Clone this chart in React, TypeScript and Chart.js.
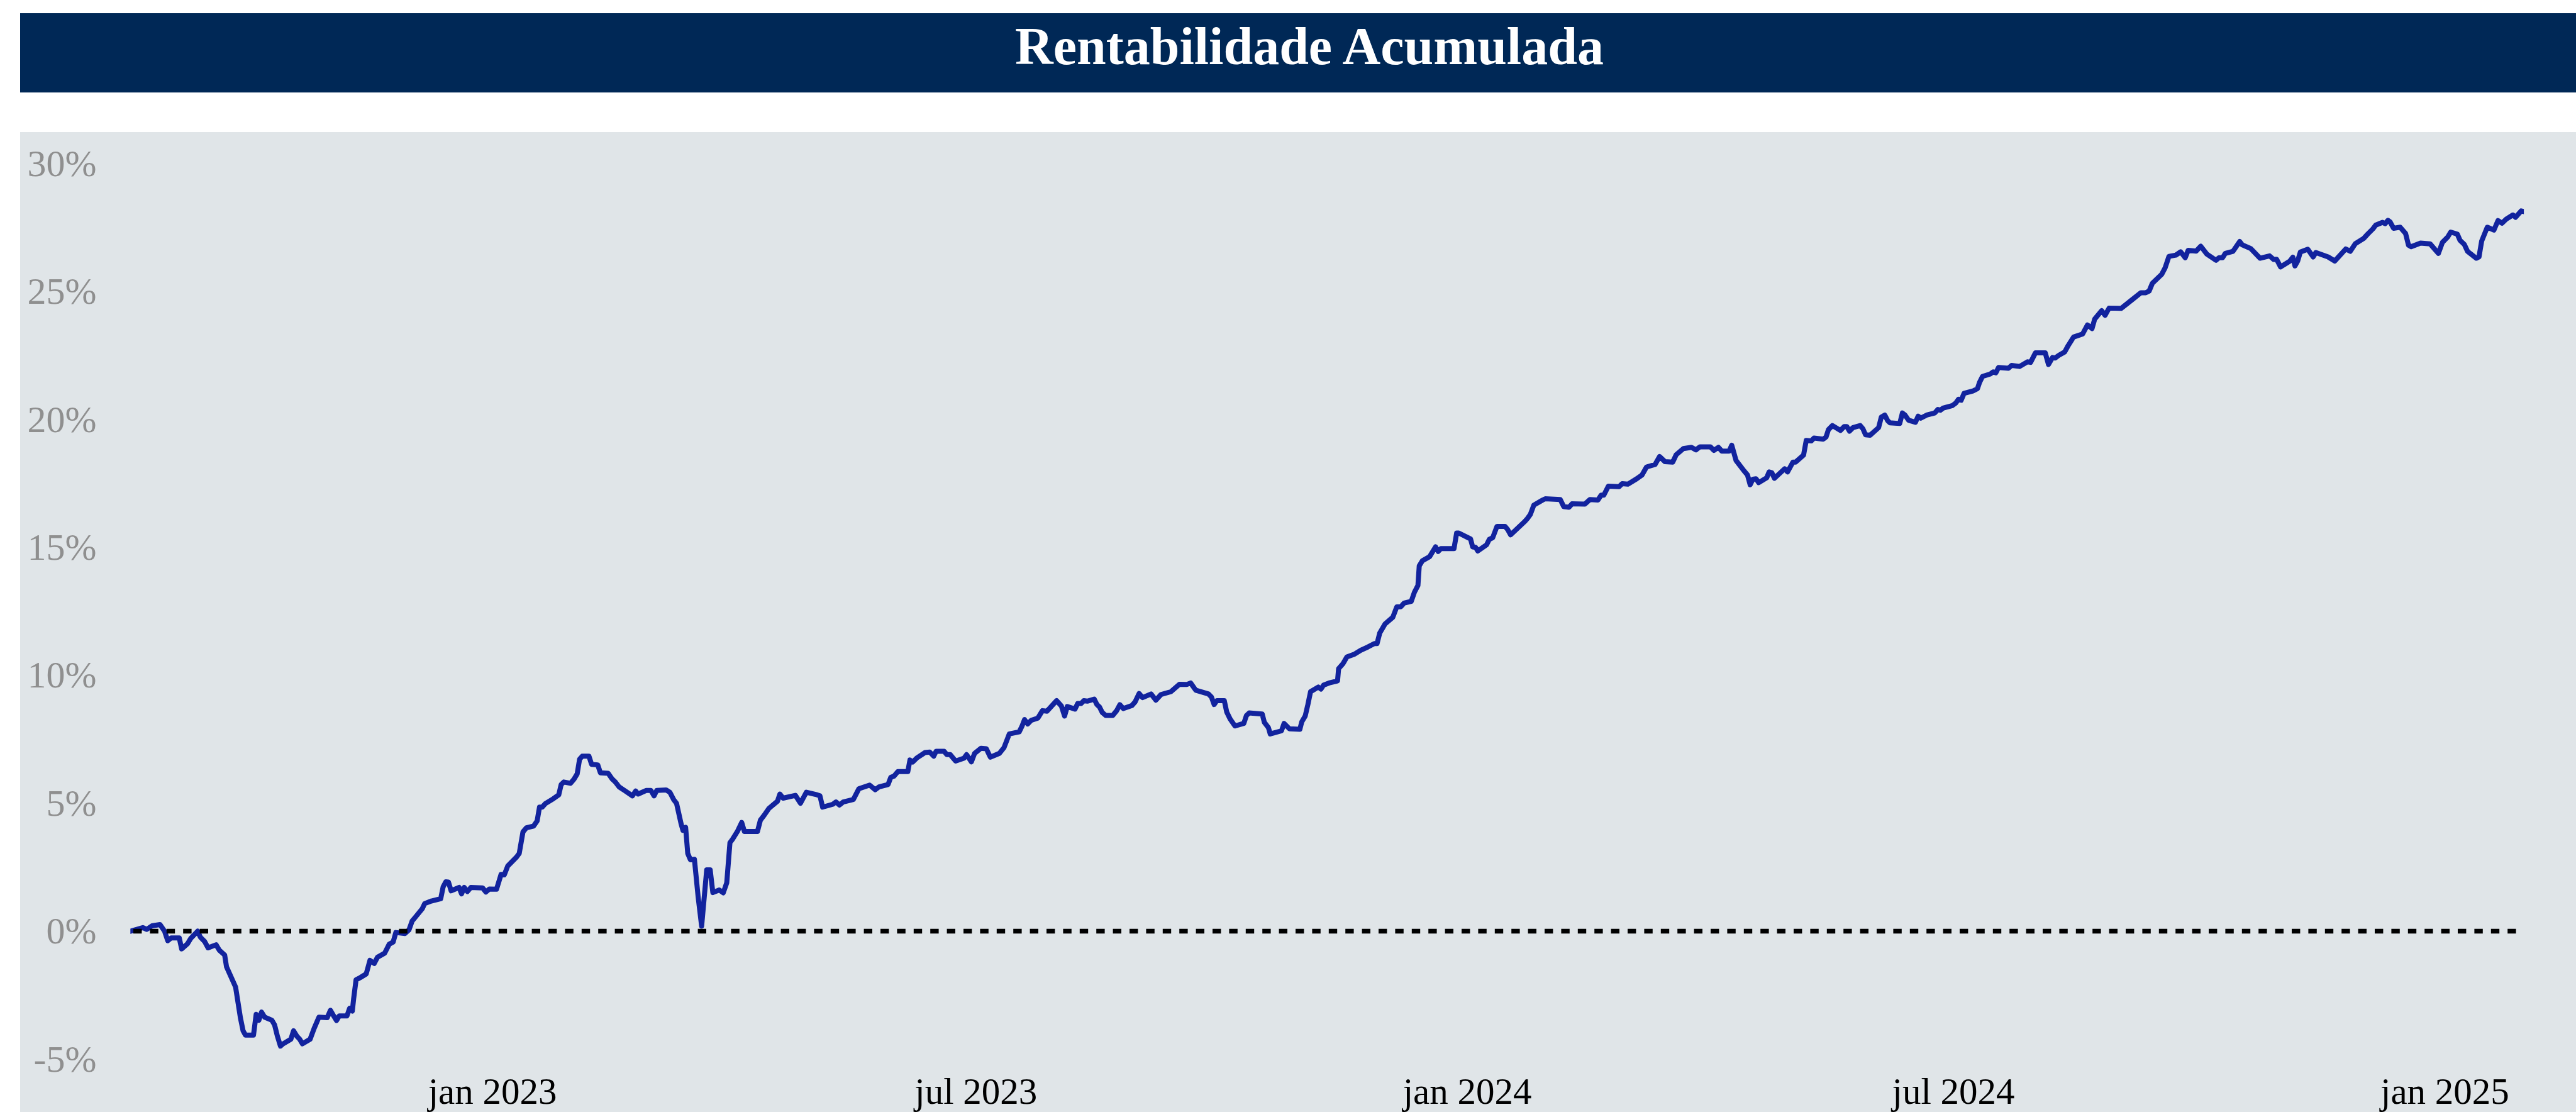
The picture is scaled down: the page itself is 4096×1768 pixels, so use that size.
import React, { useEffect, useRef } from 'react';
import { Chart, registerables } from 'chart.js';

Chart.register(...registerables);

const TITLE = 'Rentabilidade Acumulada';

// x: days since 2023-01-01, y: cumulative return in %
const dayOffsets = [
  -135.6, -130.9, -129.5, -127.5, -124.5, -122.8, -121.6, -120.3, -117.3, -116.4,
  -114.2, -113.0, -110.4, -109.4, -107.8, -106.5, -103.5, -102.3, -100.3, -99.6,
  -96.2, -94.4, -93.4, -92.5, -89.5, -88.5, -87.5, -86.5, -85.3, -82.6,
  -81.6, -80.6, -79.4, -78.4, -75.5, -74.5, -73.2, -72.2, -71.2, -68.3,
  -66.8, -65.0, -61.9, -60.7, -59.7, -58.4, -57.4, -54.5, -53.5, -52.5,
  -52.0, -51.1, -49.5, -47.3, -45.9, -44.3, -43.1, -40.4, -38.7, -37.2,
  -36.2, -32.8, -31.3, -30.1, -28.8, -26.3, -25.4, -22.9, -19.4, -18.5,
  -17.5, -16.5, -15.5, -12.5, -11.6, -10.6, -9.4, -8.1, -3.7, -2.5,
  -1.2, 1.5, 3.2, 4.4, 5.7,
  9.0, 10.0, 11.4, 12.7, 15.4, 16.7, 17.6, 18.6, 19.8, 22.8,
  24.8, 25.7, 26.7, 29.2, 30.5, 31.7, 32.6, 33.6, 36.1, 37.1,
  39.4, 40.4, 43.3, 44.7, 46.0, 47.4, 49.4, 52.4, 53.6, 54.5,
  57.5, 59.3, 60.5, 61.5, 65.0, 66.4, 67.9, 68.9, 70.6, 71.3,
  72.3, 73.1, 74.1, 75.6, 77.0, 78.3, 80.2, 81.5, 82.5, 84.9,
  86.4, 87.7, 88.9, 89.9, 91.8, 93.3, 94.3, 99.2, 100.3, 101.7,
  103.5, 106.7, 107.6, 108.8, 113.4, 115.3, 117.5, 121.5, 122.6, 123.6,
  127.4, 128.6, 129.9, 131.3, 135.1, 137.2, 141.2, 143.3, 144.7, 148.1,
  149.1, 150.3, 151.8, 155.5, 156.3, 157.3, 159.0, 161.9,
  163.7, 165.2, 166.1, 169.1, 170.1, 171.4, 173.4, 176.5, 177.5, 179.3,
  180.5, 182.9, 184.9, 186.4, 189.8, 191.5, 193.5, 197.2, 198.2, 199.2,
  200.4, 201.7, 204.2, 205.9, 207.6, 211.2, 213.0, 214.2, 215.2, 218.1,
  219.1, 220.4, 221.4, 222.7, 225.3, 226.3, 227.3, 228.3, 229.6, 232.2,
  233.7, 234.9, 236.2, 239.4, 240.6, 242.1, 243.4, 246.6, 248.4, 250.3,
  254.0, 257.2, 259.9, 261.4, 263.3, 268.1, 269.2, 270.2, 271.2, 274.0,
  274.9, 276.2, 278.0, 281.3, 282.3, 283.3, 288.2, 289.0, 290.5, 291.2,
  295.4, 296.4, 298.4, 302.3, 303.0, 304.3, 305.3, 306.3, 309.2, 310.2,
  311.2, 313.2, 316.4, 316.8,
  318.4, 319.9, 322.8, 325.1, 327.8, 330.2, 331.2, 332.2, 334.2, 337.1,
  338.6, 340.1, 341.3, 344.0, 345.2, 346.5, 347.0, 348.2, 350.9, 353.1,
  354.1, 355.1, 360.0, 361.0, 361.8, 366.2, 367.0, 368.1, 368.9, 372.2,
  373.2, 374.5, 376.1, 379.1, 380.1, 381.2, 386.5, 387.5, 388.6, 389.9,
  393.2, 394.2, 399.8, 401.1, 403.1, 404.2, 409.0, 410.9, 413.9, 415.1,
  416.1, 417.8, 421.8, 423.0, 425.1, 428.4, 430.4, 432.1, 435.3, 437.0,
  439.0, 441.9, 443.2, 445.9, 448.9, 450.6, 452.1, 456.0, 457.3, 459.0,
  460.3, 463.0, 464.0, 465.6, 468.6, 469.9, 470.9, 471.9,
  473.1, 474.1, 477.1, 478.0, 479.0, 480.0, 483.8, 484.9, 486.9, 487.9,
  490.9, 491.9, 493.8, 494.8, 498.3, 499.3, 500.2, 501.7, 504.7, 506.1,
  507.1, 508.1, 509.4, 512.1, 513.1, 514.1, 515.8, 519.0, 520.0, 521.3,
  522.4, 523.2, 526.9, 527.9, 528.9, 530.2, 532.8, 533.8, 534.8, 537.0,
  540.0, 541.2, 542.1, 543.1, 546.6, 547.9, 548.9, 549.9, 551.0, 554.5,
  556.0, 556.8, 557.9, 560.9, 561.9, 562.9, 563.9, 567.6, 568.8, 571.8,
  574.7, 575.9, 577.7, 581.4, 582.6, 584.1, 585.1, 586.4, 588.7, 590.0,
  592.0, 595.4, 597.2, 598.9, 599.9, 602.5, 603.8, 605.3, 609.8, 613.7,
  617.2, 619.0,
  620.3, 621.5, 625.0, 626.3, 627.7, 630.3, 632.1, 633.8, 634.9, 637.9,
  639.6, 641.9, 645.3, 646.5, 647.8, 648.8, 651.7, 654.2, 655.2, 658.3,
  661.8, 665.4, 666.9, 668.0, 669.5, 673.0, 674.1, 674.9, 675.9, 676.9,
  679.7, 681.7, 682.7, 687.3, 689.8, 693.9, 695.6, 697.5, 700.7, 702.1,
  704.1, 705.1, 707.7, 708.7, 709.7, 710.5, 711.8, 714.3, 716.3, 717.4,
  718.4, 721.9, 725.5, 728.6, 730.1, 732.1, 733.2, 735.7, 736.7, 738.3,
  739.5, 742.8, 743.8, 744.8, 746.9, 749.4, 750.9, 752.4, 754.0, 756.5,
  757.5, 759.6, 760.6,
];

const cumulativeReturn = [
  0.00, 0.14, 0.07, 0.21, 0.26, 0.00, -0.37, -0.26, -0.26, -0.69,
  -0.49, -0.28, 0.00, -0.23, -0.40, -0.65, -0.53, -0.74, -0.93, -1.39,
  -2.18, -3.38, -3.89, -4.06, -4.06, -3.25, -3.48, -3.16, -3.36, -3.48,
  -3.66, -4.08, -4.49, -4.40, -4.22, -3.89, -4.11, -4.22, -4.40, -4.22,
  -3.80, -3.36, -3.38, -3.09, -3.27, -3.49, -3.31, -3.31, -3.01, -3.12,
  -2.64, -1.90, -1.81, -1.67, -1.14, -1.26, -1.02, -0.86, -0.51, -0.42,
  -0.05, -0.09, 0.05, 0.40, 0.56, 0.88, 1.08, 1.18, 1.27, 1.73,
  1.93, 1.92, 1.58, 1.71, 1.46, 1.71, 1.55, 1.71, 1.69, 1.53,
  1.65, 1.64, 2.22, 2.20, 2.55,
  2.90, 3.04, 3.88, 4.04, 4.11, 4.31, 4.85, 4.85, 4.99, 5.18,
  5.33, 5.73, 5.83, 5.78, 5.94, 6.15, 6.72, 6.84, 6.84, 6.52,
  6.50, 6.19, 6.17, 5.96, 5.83, 5.64, 5.50, 5.29, 5.48, 5.36,
  5.50, 5.50, 5.29, 5.50, 5.52, 5.43, 5.13, 5.00, 4.20, 3.94,
  4.06, 3.04, 2.79, 2.81, 1.33, 0.20, 2.40, 2.40, 1.51, 1.61,
  1.50, 1.89, 3.46, 3.60, 3.92, 4.25, 3.90, 3.90, 4.34, 4.53,
  4.80, 5.08, 5.36, 5.20, 5.31, 5.00, 5.43, 5.33, 5.29, 4.85,
  4.96, 5.05, 4.93, 5.05, 5.15, 5.57, 5.71, 5.53, 5.64, 5.73,
  6.01, 6.06, 6.24, 6.24, 6.69, 6.61, 6.78, 6.98,
  7.00, 6.84, 7.03, 7.03, 6.90, 6.90, 6.65, 6.76, 6.90, 6.62,
  6.95, 7.15, 7.13, 6.80, 6.95, 7.17, 7.71, 7.79, 8.00, 8.27,
  8.10, 8.24, 8.33, 8.62, 8.60, 9.01, 8.80, 8.41, 8.78, 8.68,
  8.90, 8.90, 9.01, 8.99, 9.07, 8.86, 8.76, 8.55, 8.43, 8.43,
  8.62, 8.85, 8.70, 8.82, 8.96, 9.29, 9.13, 9.27, 9.03, 9.25,
  9.36, 9.65, 9.64, 9.70, 9.42, 9.27, 9.15, 8.86, 9.01, 9.01,
  8.57, 8.29, 8.02, 8.12, 8.43, 8.53, 8.49, 8.16, 7.96, 7.71,
  7.83, 8.12, 7.91, 7.89, 8.18, 8.41, 8.86, 9.36, 9.54, 9.46,
  9.62, 9.70, 9.78, 10.26,
  10.45, 10.72, 10.83, 10.98, 11.11, 11.24, 11.24, 11.65, 12.01, 12.27,
  12.68, 12.68, 12.82, 12.89, 13.25, 13.51, 14.28, 14.48, 14.64, 15.02,
  14.84, 14.95, 14.95, 15.56, 15.56, 15.33, 15.02, 15.00, 14.86, 15.10,
  15.31, 15.38, 15.82, 15.82, 15.70, 15.49, 16.01, 16.13, 16.29, 16.65,
  16.85, 16.90, 16.87, 16.59, 16.57, 16.70, 16.69, 16.87, 16.85, 17.04,
  17.04, 17.39, 17.37, 17.49, 17.47, 17.68, 17.83, 18.14, 18.24, 18.55,
  18.35, 18.33, 18.62, 18.86, 18.91, 18.81, 18.93, 18.93, 18.79, 18.91,
  18.76, 18.76, 18.99, 18.40, 17.99, 17.83, 17.45, 17.66,
  17.68, 17.53, 17.72, 17.95, 17.92, 17.70, 18.07, 17.95, 18.33, 18.33,
  18.61, 19.18, 19.16, 19.27, 19.23, 19.31, 19.60, 19.76, 19.57, 19.72,
  19.72, 19.54, 19.68, 19.76, 19.64, 19.40, 19.38, 19.68, 20.09, 20.17,
  19.95, 19.87, 19.84, 20.25, 20.17, 19.97, 19.89, 20.13, 20.05, 20.17,
  20.25, 20.39, 20.36, 20.44, 20.54, 20.64, 20.79, 20.75, 21.02, 21.12,
  21.20, 21.45, 21.68, 21.78, 21.86, 21.82, 22.03, 22.00, 22.11, 22.07,
  22.25, 22.23, 22.60, 22.60, 22.15, 22.42, 22.40, 22.50, 22.64, 22.89,
  23.22, 23.34, 23.69, 23.55, 23.92, 24.25, 24.07, 24.35, 24.34, 24.66,
  24.95, 24.95,
  25.02, 25.32, 25.67, 25.93, 26.37, 26.42, 26.55, 26.32, 26.61, 26.58,
  26.77, 26.46, 26.22, 26.32, 26.32, 26.49, 26.57, 26.95, 26.82, 26.68,
  26.30, 26.39, 26.25, 26.26, 25.96, 26.19, 26.34, 26.00, 26.19, 26.54,
  26.65, 26.35, 26.52, 26.35, 26.19, 26.66, 26.57, 26.87, 27.08, 27.24,
  27.45, 27.59, 27.70, 27.65, 27.78, 27.72, 27.47, 27.51, 27.27, 26.81,
  26.75, 26.89, 26.86, 26.49, 26.92, 27.13, 27.32, 27.24, 27.00, 26.84,
  26.57, 26.30, 26.35, 26.97, 27.51, 27.40, 27.77, 27.67, 27.83, 27.99,
  27.90, 28.15, 28.12,
];

const xTickDays = [0, 181, 365, 547, 731];
const xTickLabels = ['jan 2023', 'jul 2023', 'jan 2024', 'jul 2024', 'jan 2025'];
const yTicks = [-5, 0, 5, 10, 15, 20, 25, 30];
const zeroLineValue = 0;

const FONT = '"Liberation Serif", "Times New Roman", Times, serif';

export default function App() {
  const canvasRef = useRef<HTMLCanvasElement>(null);

  useEffect(() => {
    const first = dayOffsets[0];
    const last = dayOffsets[dayOffsets.length - 1];
    const chart = new Chart(canvasRef.current as HTMLCanvasElement, {
      type: 'line',
      data: {
        datasets: [
          {
            data: [
              { x: first, y: zeroLineValue },
              { x: last, y: zeroLineValue },
            ],
            borderColor: '#000000',
            borderWidth: 7.5,
            borderDash: [13.4, 13],
            borderDashOffset: 21.7,
            borderCapStyle: 'butt',
            pointRadius: 0,
            fill: false,
          },
          {
            data: dayOffsets.map((d, i) => ({ x: d, y: cumulativeReturn[i] })),
            borderColor: '#12239E',
            borderWidth: 8,
            borderCapStyle: 'round',
            borderJoinStyle: 'round',
            pointRadius: 0,
            tension: 0,
            fill: false,
          },
        ],
      },
      options: {
        animation: false,
        responsive: false,
        maintainAspectRatio: false,
        layout: { padding: { top: 50, right: 82.9, bottom: 0, left: 0 } },
        plugins: {
          legend: { display: false },
          tooltip: { enabled: false },
          title: { display: false },
        },
        scales: {
          x: {
            type: 'linear',
            min: first,
            max: last,
            grid: { display: false, drawTicks: false },
            border: { display: false },
            afterBuildTicks: (s: any) => {
              s.ticks = xTickDays.map((v) => ({ value: v }));
            },
            afterFit: (s: any) => {
              s.height = 84;
              s.paddingLeft = 0;
              s.paddingRight = 0;
              s.paddingTop = 0;
              s.paddingBottom = 0;
            },
            ticks: {
              autoSkip: false,
              maxRotation: 0,
              minRotation: 0,
              padding: 20,
              color: '#000000',
              font: { family: FONT, size: 59 },
              callback: (v: any) => {
                const i = xTickDays.indexOf(Number(v));
                return i >= 0 ? xTickLabels[i] : '';
              },
            },
          },
          y: {
            type: 'linear',
            min: -5,
            max: 30,
            grid: { display: false, drawTicks: false },
            border: { display: false },
            afterBuildTicks: (s: any) => {
              s.ticks = yTicks.map((v) => ({ value: v }));
            },
            afterFit: (s: any) => {
              s.width = 175.3;
              s.paddingLeft = 0;
              s.paddingRight = 0;
              s.paddingTop = 0;
              s.paddingBottom = 0;
            },
            ticks: {
              padding: 53.8,
              labelOffset: 4,
              color: '#8f8f8f',
              font: { family: FONT, size: 60 },
              callback: (v: any) => `${v}%`,
            },
          },
        },
      },
    } as any);
    return () => chart.destroy();
  }, []);

  return (
    <div
      style={{
        position: 'fixed',
        left: 0,
        top: 0,
        width: 4096,
        height: 1768,
        background: '#ffffff',
        overflow: 'hidden',
      }}
    >
      <div
        style={{
          position: 'absolute',
          left: 31.5,
          top: 21,
          width: 4096 - 31.5,
          height: 126,
          background: '#002856',
        }}
      />
      <div
        style={{
          position: 'absolute',
          left: 2082 - 1000,
          top: 31.7,
          width: 2000,
          height: 84,
          lineHeight: '84px',
          fontSize: 84,
          fontWeight: 'bold',
          fontFamily: FONT,
          color: '#ffffff',
          textAlign: 'center',
          whiteSpace: 'nowrap',
        }}
      >
        {TITLE}
      </div>
      <div
        style={{
          position: 'absolute',
          left: 32,
          top: 210,
          width: 4064,
          height: 1558,
          background: '#E0E5E8',
        }}
      >
        <canvas
          ref={canvasRef}
          width={4064}
          height={1558}
          style={{ width: 4064, height: 1558, display: 'block' }}
        />
      </div>
    </div>
  );
}
